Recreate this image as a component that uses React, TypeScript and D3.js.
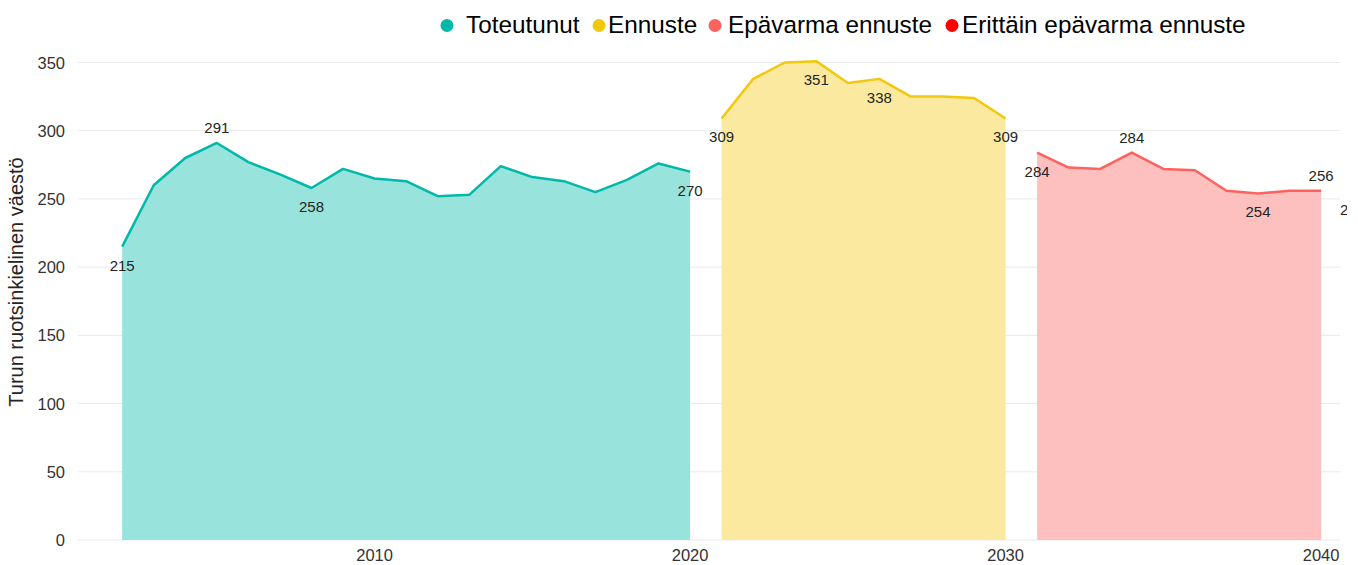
import * as d3 from 'd3';

// years and values
const toteutunutYears = d3.range(2002, 2021);
const toteutunutValues = [215, 260, 280, 291, 277, 268, 258, 272, 265, 263, 252, 253, 274, 266, 263, 255, 264, 276, 270];

const ennusteYears = d3.range(2021, 2031);
const ennusteValues = [309, 338, 350, 351, 335, 338, 325, 325, 324, 309];

const epavarmaYears = d3.range(2031, 2041);
const epavarmaValues = [284, 273, 272, 284, 272, 271, 256, 254, 256, 256];

const erittainYears = [2041];
const erittainValues = [256];

// which points carry a data label, and whether it sits above the line
const labelYears = [2002, 2005, 2008, 2020, 2021, 2024, 2026, 2030, 2031, 2034, 2038, 2040, 2041];
const labelAbove = [2005, 2034, 2040];

const yTicks = [0, 50, 100, 150, 200, 250, 300, 350];
const xTicks = [2010, 2020, 2030, 2040];

const legendLabels = ['Toteutunut', 'Ennuste', 'Epävarma ennuste', 'Erittäin epävarma ennuste'];
const lineColors = ['#01B8AA', '#F2C80F', '#FD625E', '#FF0000'];
const fillColors = ['#99E3DD', '#FAE99F', '#FEC0BF', '#FF9999'];

const width = 1358;
const height = 565;
const font = '"Liberation Sans", Arial, sans-serif';

export default function App() {
    const x = d3.scaleLinear().domain([2000.6, 2040.6]).range([78, 1340]);
    const y = d3.scaleLinear().domain([0, 350]).range([540, 62.5]);

    const series = [
        { years: toteutunutYears, values: toteutunutValues },
        { years: ennusteYears, values: ennusteValues },
        { years: epavarmaYears, values: epavarmaValues },
        { years: erittainYears, values: erittainValues },
    ];

    const area = d3.area<[number, number]>()
        .x(d => x(d[0]))
        .y0(y(0))
        .y1(d => y(d[1]));
    const line = d3.line<[number, number]>()
        .x(d => x(d[0]))
        .y(d => y(d[1]));

    // legend layout: dot centre and text start
    const legendDots = [447, 599, 715, 952];
    const legendText = [466, 608, 728, 962];

    return (
        <svg width={width} height={height} style={{ position: 'absolute', left: 0, top: 0 }} fontFamily={font}>
            <defs>
                <clipPath id="plot">
                    <rect x={78} y={0} width={1340 - 78} height={height} />
                </clipPath>
                <clipPath id="labels">
                    <rect x={0} y={0} width={1347} height={height} />
                </clipPath>
            </defs>

            {yTicks.map(t => (
                <g key={t}>
                    <line x1={78} x2={1340} y1={y(t)} y2={y(t)} stroke="#E9E9E9" strokeWidth={1} />
                    <text x={65} y={y(t) + 6} textAnchor="end" fontSize={16.5} fill="#333">{t}</text>
                </g>
            ))}

            {xTicks.map(t => (
                <text key={t} x={x(t)} y={560.5} textAnchor="middle" fontSize={16.5} fill="#333">{t}</text>
            ))}

            <text transform="translate(23, 282) rotate(-90)" textAnchor="middle" fontSize={20} fill="#252423">
                Turun ruotsinkielinen väestö
            </text>

            <g clipPath="url(#plot)">
                {series.map((s, i) => {
                    const pts = s.years.map((yr, j) => [yr, s.values[j]] as [number, number]);
                    return (
                        <g key={i}>
                            <path d={area(pts) ?? ''} fill={fillColors[i]} />
                            <path d={line(pts) ?? ''} fill="none" stroke={lineColors[i]} strokeWidth={2.5} strokeLinejoin="round" />
                        </g>
                    );
                })}
            </g>

            <g clipPath="url(#labels)">
                {series.map(s => s.years.map((yr, j) => {
                    if (!labelYears.includes(yr)) return null;
                    const above = labelAbove.includes(yr);
                    const py = y(s.values[j]);
                    return (
                        <text key={yr} x={x(yr)} y={above ? py - 10 : py + 24} textAnchor="middle" fontSize={15} fill="#252423">
                            {s.values[j]}
                        </text>
                    );
                }))}
            </g>

            {legendLabels.map((l, i) => (
                <g key={l}>
                    <circle cx={legendDots[i]} cy={25.5} r={6.5} fill={lineColors[i]} />
                    <text x={legendText[i]} y={33.3} fontSize={24.3} fill="#000">{l}</text>
                </g>
            ))}
        </svg>
    );
}
